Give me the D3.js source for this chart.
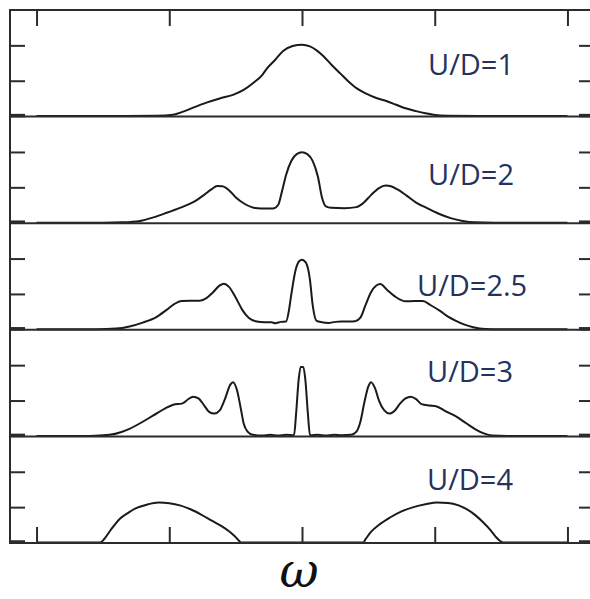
<!DOCTYPE html>
<html><head><meta charset="utf-8">
<script src="https://cdn.jsdelivr.net/npm/d3@7/dist/d3.min.js"></script>
<style>body{margin:0;background:#fff;overflow:hidden}</style>
</head><body><svg id="c" width="590" height="599"></svg>
<script>
// ---- data ----
const panelLabels = ["U/D=1", "U/D=2", "U/D=2.5", "U/D=3", "U/D=4"];
const xTicks = [-2, -1, 0, 1, 2];
const yTicks = [0, 1, 2];
const xLabel = "ω";

// spectral function A(ω) per panel, [ω, A]
const specU1 = [[-2,0],[-1.4,0],[-1.1,0.01],[-0.97,0.04],[-0.9,0.12],[-0.82,0.24],[-0.72,0.38],[-0.62,0.5],[-0.52,0.6],[-0.44,0.74],[-0.37,0.93],[-0.3,1.16],[-0.265,1.34],[-0.2,1.6],[-0.14,1.85],[-0.07,1.98],[0,2.02],[0.06,1.97],[0.11,1.86],[0.16,1.7],[0.22,1.46],[0.29,1.2],[0.35,0.98],[0.41,0.79],[0.48,0.64],[0.56,0.51],[0.64,0.42],[0.71,0.32],[0.78,0.22],[0.86,0.14],[0.93,0.08],[0.99,0.04],[1.1,0.01],[1.4,0],[2,0]];
const specU2 = [[-2,0],[-1.5,0],[-1.35,0.01],[-1.22,0.05],[-1.12,0.15],[-1.02,0.28],[-0.92,0.42],[-0.82,0.58],[-0.74,0.78],[-0.68,0.95],[-0.64,1.04],[-0.6,1.03],[-0.55,0.92],[-0.5,0.72],[-0.44,0.55],[-0.38,0.44],[-0.31,0.4],[-0.22,0.4],[-0.18,0.5],[-0.15,0.9],[-0.12,1.35],[-0.08,1.75],[-0.04,1.94],[0,1.99],[0.04,1.94],[0.08,1.75],[0.12,1.3],[0.15,0.72],[0.18,0.46],[0.22,0.42],[0.32,0.41],[0.41,0.44],[0.46,0.55],[0.52,0.78],[0.58,0.98],[0.63,1.05],[0.67,1.03],[0.72,0.94],[0.79,0.76],[0.86,0.57],[0.95,0.4],[1.04,0.24],[1.12,0.13],[1.21,0.05],[1.3,0.01],[1.45,0],[2,0]];
const specU25 = [[-2,0],[-1.55,0],[-1.4,0.02],[-1.3,0.08],[-1.2,0.19],[-1.1,0.34],[-1.02,0.55],[-0.96,0.72],[-0.91,0.8],[-0.84,0.81],[-0.77,0.81],[-0.72,0.88],[-0.67,1.05],[-0.62,1.24],[-0.59,1.29],[-0.55,1.2],[-0.5,0.9],[-0.45,0.55],[-0.4,0.32],[-0.35,0.23],[-0.28,0.2],[-0.23,0.2],[-0.2,0.17],[-0.16,0.21],[-0.12,0.22],[-0.1,0.5],[-0.08,1.0],[-0.05,1.65],[-0.02,1.93],[0,1.97],[0.03,1.88],[0.06,1.4],[0.08,0.7],[0.11,0.24],[0.15,0.2],[0.2,0.18],[0.25,0.21],[0.32,0.22],[0.4,0.23],[0.44,0.33],[0.48,0.7],[0.52,1.05],[0.56,1.24],[0.59,1.28],[0.64,1.12],[0.7,0.93],[0.78,0.79],[0.85,0.8],[0.91,0.8],[0.97,0.68],[1.04,0.52],[1.1,0.36],[1.16,0.24],[1.22,0.14],[1.29,0.06],[1.38,0.01],[1.5,0],[2,0]];
const specU3 = [[-2,0],[-1.6,0],[-1.45,0.03],[-1.36,0.11],[-1.3,0.2],[-1.2,0.4],[-1.12,0.58],[-1.03,0.78],[-0.97,0.88],[-0.9,0.92],[-0.86,1.03],[-0.82,1.11],[-0.78,1.06],[-0.74,0.88],[-0.7,0.68],[-0.66,0.63],[-0.62,0.72],[-0.58,1.05],[-0.54,1.45],[-0.52,1.52],[-0.49,1.3],[-0.46,0.75],[-0.44,0.36],[-0.41,0.12],[-0.37,0.03],[-0.3,0.01],[-0.24,0.03],[-0.18,0.01],[-0.12,0.03],[-0.06,0.02],[-0.045,0.6],[-0.025,1.6],[-0.01,1.95],[0.01,1.95],[0.025,1.6],[0.045,0.6],[0.06,0.02],[0.12,0.03],[0.18,0.01],[0.24,0.03],[0.3,0.02],[0.37,0.03],[0.41,0.12],[0.44,0.4],[0.47,0.95],[0.5,1.4],[0.52,1.52],[0.55,1.35],[0.58,1.0],[0.62,0.72],[0.66,0.63],[0.7,0.72],[0.74,0.92],[0.78,1.06],[0.82,1.11],[0.86,1.04],[0.9,0.9],[0.96,0.86],[1.01,0.84],[1.08,0.7],[1.16,0.55],[1.24,0.35],[1.31,0.18],[1.37,0.07],[1.43,0.01],[1.55,0],[2,0]];
const specU4 = [[-2,0],[-1.52,0],[-1.49,0.1],[-1.44,0.36],[-1.37,0.68],[-1.31,0.84],[-1.25,0.97],[-1.17,1.07],[-1.08,1.13],[-1.0,1.11],[-0.92,1.05],[-0.84,0.94],[-0.76,0.79],[-0.68,0.62],[-0.6,0.45],[-0.55,0.32],[-0.51,0.19],[-0.48,0.07],[-0.46,0],[0.46,0],[0.48,0.1],[0.52,0.3],[0.58,0.5],[0.66,0.7],[0.75,0.88],[0.84,1.0],[0.93,1.08],[1.02,1.13],[1.1,1.12],[1.18,1.05],[1.25,0.92],[1.31,0.76],[1.37,0.55],[1.42,0.35],[1.46,0.16],[1.49,0.05],[1.52,0],[2,0]];
const spectra = [specU1, specU2, specU25, specU3, specU4];

// ---- layout ----
const frame = {left: 10, right: 594, top: 10, bottom: 543};
const nP = spectra.length;
const pH = (frame.bottom - frame.top) / nP;
const ink = "#2b2b2b";

const svg = d3.select("#c");
const x = d3.scaleLinear().domain([-2.2, 2.2]).range([frame.left, frame.right]);

const line = d3.line().curve(d3.curveMonotoneX);

const labelPos = [
  {dx: 428, dy: 65},
  {dx: 428, dy: 68},
  {dx: 417, dy: 73},
  {dx: 427, dy: 52},
  {dx: 427, dy: 54}
];

spectra.forEach((spec, i) => {
  const top = frame.top + i * pH, bot = top + pH;
  const y = d3.scaleLinear().domain([0, 3]).range([bot - 0.5, top]);
  const g = svg.append("g");

  g.append("path")
    .attr("d", line.x(d => x(d[0])).y(d => y(d[1]))(spec))
    .attr("fill", "none").attr("stroke", "#1a1a1a").attr("stroke-width", 2)
    .attr("stroke-linejoin", "round");

  const yl = d3.axisLeft(y).tickValues(yTicks).tickSize(-15).tickFormat("");
  const yr = d3.axisRight(y).tickValues(yTicks).tickSize(-15).tickFormat("");
  const gl = g.append("g").attr("transform", `translate(${frame.left},0)`).call(yl);
  const gr = g.append("g").attr("transform", `translate(${frame.right},0)`).call(yr);
  [gl, gr].forEach(a => {
    a.select(".domain").remove();
    a.selectAll(".tick line").attr("stroke", ink).attr("stroke-width", 2);
    a.selectAll(".tick").filter(d => d === 0).select("line").attr("stroke-width", 3.5).attr("transform", "translate(0,-1)");
  });

  g.append("line").attr("x1", frame.left).attr("x2", frame.right)
    .attr("y1", bot).attr("y2", bot).attr("stroke", ink).attr("stroke-width", 2);

  g.append("text").attr("x", labelPos[i].dx).attr("y", top + labelPos[i].dy)
    .attr("font-family", "'Open Sans', sans-serif").attr("font-size", 29)
    .attr("fill", "#27315e").text(panelLabels[i]);
});

const xt = d3.axisTop(x).tickValues(xTicks).tickSize(-16).tickFormat("");
const xb = d3.axisBottom(x).tickValues(xTicks).tickSize(-16).tickFormat("");
[svg.append("g").attr("transform", `translate(0,${frame.top})`).call(xt),
 svg.append("g").attr("transform", `translate(0,${frame.bottom})`).call(xb)].forEach(a => {
  a.select(".domain").remove();
  a.selectAll(".tick line").attr("stroke", ink).attr("stroke-width", 2);
});

svg.append("rect").attr("x", frame.left).attr("y", frame.top)
  .attr("width", frame.right - frame.left).attr("height", frame.bottom - frame.top)
  .attr("fill", "none").attr("stroke", ink).attr("stroke-width", 2);

svg.append("text").attr("x", x(0) - 3).attr("y", 587).attr("text-anchor", "middle")
  .attr("font-family", "'DejaVu Serif', serif").attr("font-style", "italic")
  .attr("font-size", 48).attr("fill", "#111").text(xLabel);
</script></body></html>
